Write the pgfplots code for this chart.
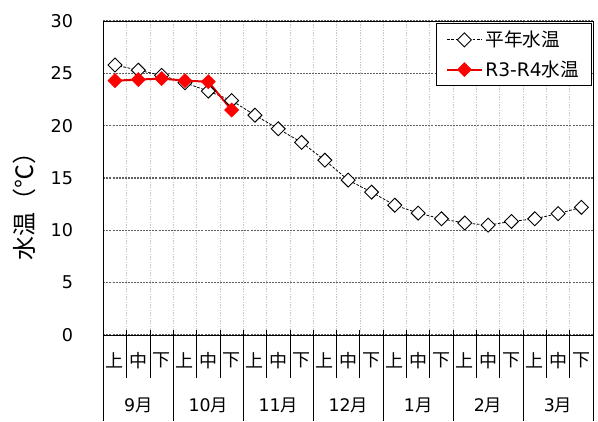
\documentclass[border=0pt]{standalone}
\usepackage{fontspec}
\setmainfont{DejaVu Sans}
\newfontfamily\jp{Noto Sans CJK JP}
\usepackage{pgfplots}
\pgfplotsset{compat=1.18}

\begin{document}
\begin{tikzpicture}
\useasboundingbox (-77.5pt,-64.5pt) rectangle (371pt,251.25pt);
\begin{axis}[
    at={(0,0)}, anchor=south west,
    scale only axis,
    width=367.3pt, height=235.5pt,
    xmin=0, xmax=21, ymin=0, ymax=30,
    clip=false,
    axis line style={black, line width=0.7pt},
    ytick={0,5,...,30},
    ytick style={draw=none},
    yticklabel style={anchor=east, inner sep=0pt, xshift=-22.5pt, font=\fontsize{13.2pt}{15pt}\selectfont},
    /pgf/number format/assume math mode=true,
    xtick={0.5,1.5,...,20.5},
    xticklabels={上,中,下,上,中,下,上,中,下,上,中,下,上,中,下,上,中,下,上,中,下},
    xticklabel style={anchor=center, yshift=-19pt, inner sep=0pt, font=\jp\fontsize{13.5pt}{15pt}\selectfont},
    major x tick style={draw=none},
    minor xtick={1,2,...,20},
    minor x tick style={black, line width=0.6pt},
    minor tick length=3.75pt,
    xtick pos=bottom, ytick pos=left,
    ymajorgrids,
    xminorgrids,
    major grid style={gray!75!black, line width=0.9pt, dash pattern=on 1.5pt off 0.8pt},
    minor grid style={gray!45, line width=0.5pt, dash pattern=on 1pt off 1pt},
    legend style={at={(0.997,0.993)}, anchor=north east, draw=black, line width=0.7pt,
        font=\fontsize{14pt}{16pt}\selectfont, row sep=5pt, inner xsep=7pt, inner ysep=3.5pt,
        cells={anchor=west}},
    legend cell align=left,
    legend image code/.code={
        \draw[mark repeat=2, mark phase=2, #1]
            plot coordinates {(0pt,0pt) (13pt,0pt) (26pt,0pt)};
    },
]

\addplot[black, line width=0.6pt, dash pattern=on 2pt off 1.2pt,
    mark=square*, mark size=3.7pt,
    mark options={solid, rotate=45, fill=white, draw=black, line width=0.7pt}]
coordinates {
(0.5,25.8) (1.5,25.3) (2.5,24.8) (3.5,24.1) (4.5,23.3) (5.5,22.4) (6.5,21.0)
(7.5,19.7) (8.5,18.4) (9.5,16.7) (10.5,14.8) (11.5,13.65) (12.5,12.4) (13.5,11.65)
(14.5,11.1) (15.5,10.7) (16.5,10.5) (17.5,10.85) (18.5,11.1) (19.5,11.6) (20.5,12.2)
};
\addlegendentry{\jp 平年水温}

\addplot[red!90!black, line width=1.5pt,
    mark=square*, mark size=3.7pt,
    mark options={solid, rotate=45, fill=red, draw=red, line width=0.5pt}]
coordinates {
(0.5,24.3) (1.5,24.4) (2.5,24.5) (3.5,24.3) (4.5,24.2) (5.5,21.5)
};
\addlegendentry{R3-R4{\jp 水温}}

% table under the axis
\pgfplotsinvokeforeach{1,2,4,5,7,8,10,11,13,14,16,17,19,20}{
  \draw[black, line width=0.6pt] (axis cs:#1,0) -- ++(0,-32.25pt);
}
\pgfplotsinvokeforeach{0,3,6,9,12,15,18,21}{
  \draw[black, line width=0.6pt] (axis cs:#1,0) -- ++(0,-64.5pt);
}
\node[font=\fontsize{13pt}{15pt}\selectfont] at ([yshift=-52.5pt]axis cs:1.5,0) {9{\jp 月}};
\node[font=\fontsize{13pt}{15pt}\selectfont] at ([yshift=-52.5pt]axis cs:4.5,0) {10{\jp 月}};
\node[font=\fontsize{13pt}{15pt}\selectfont] at ([yshift=-52.5pt]axis cs:7.5,0) {11{\jp 月}};
\node[font=\fontsize{13pt}{15pt}\selectfont] at ([yshift=-52.5pt]axis cs:10.5,0) {12{\jp 月}};
\node[font=\fontsize{13pt}{15pt}\selectfont] at ([yshift=-52.5pt]axis cs:13.5,0) {1{\jp 月}};
\node[font=\fontsize{13pt}{15pt}\selectfont] at ([yshift=-52.5pt]axis cs:16.5,0) {2{\jp 月}};
\node[font=\fontsize{13pt}{15pt}\selectfont] at ([yshift=-52.5pt]axis cs:19.5,0) {3{\jp 月}};

\node[rotate=90, font=\jp\fontsize{18pt}{20pt}\selectfont] at ([xshift=-59.5pt]rel axis cs:0,0.427) {水温（℃）};
\end{axis}
\end{tikzpicture}
\end{document}
